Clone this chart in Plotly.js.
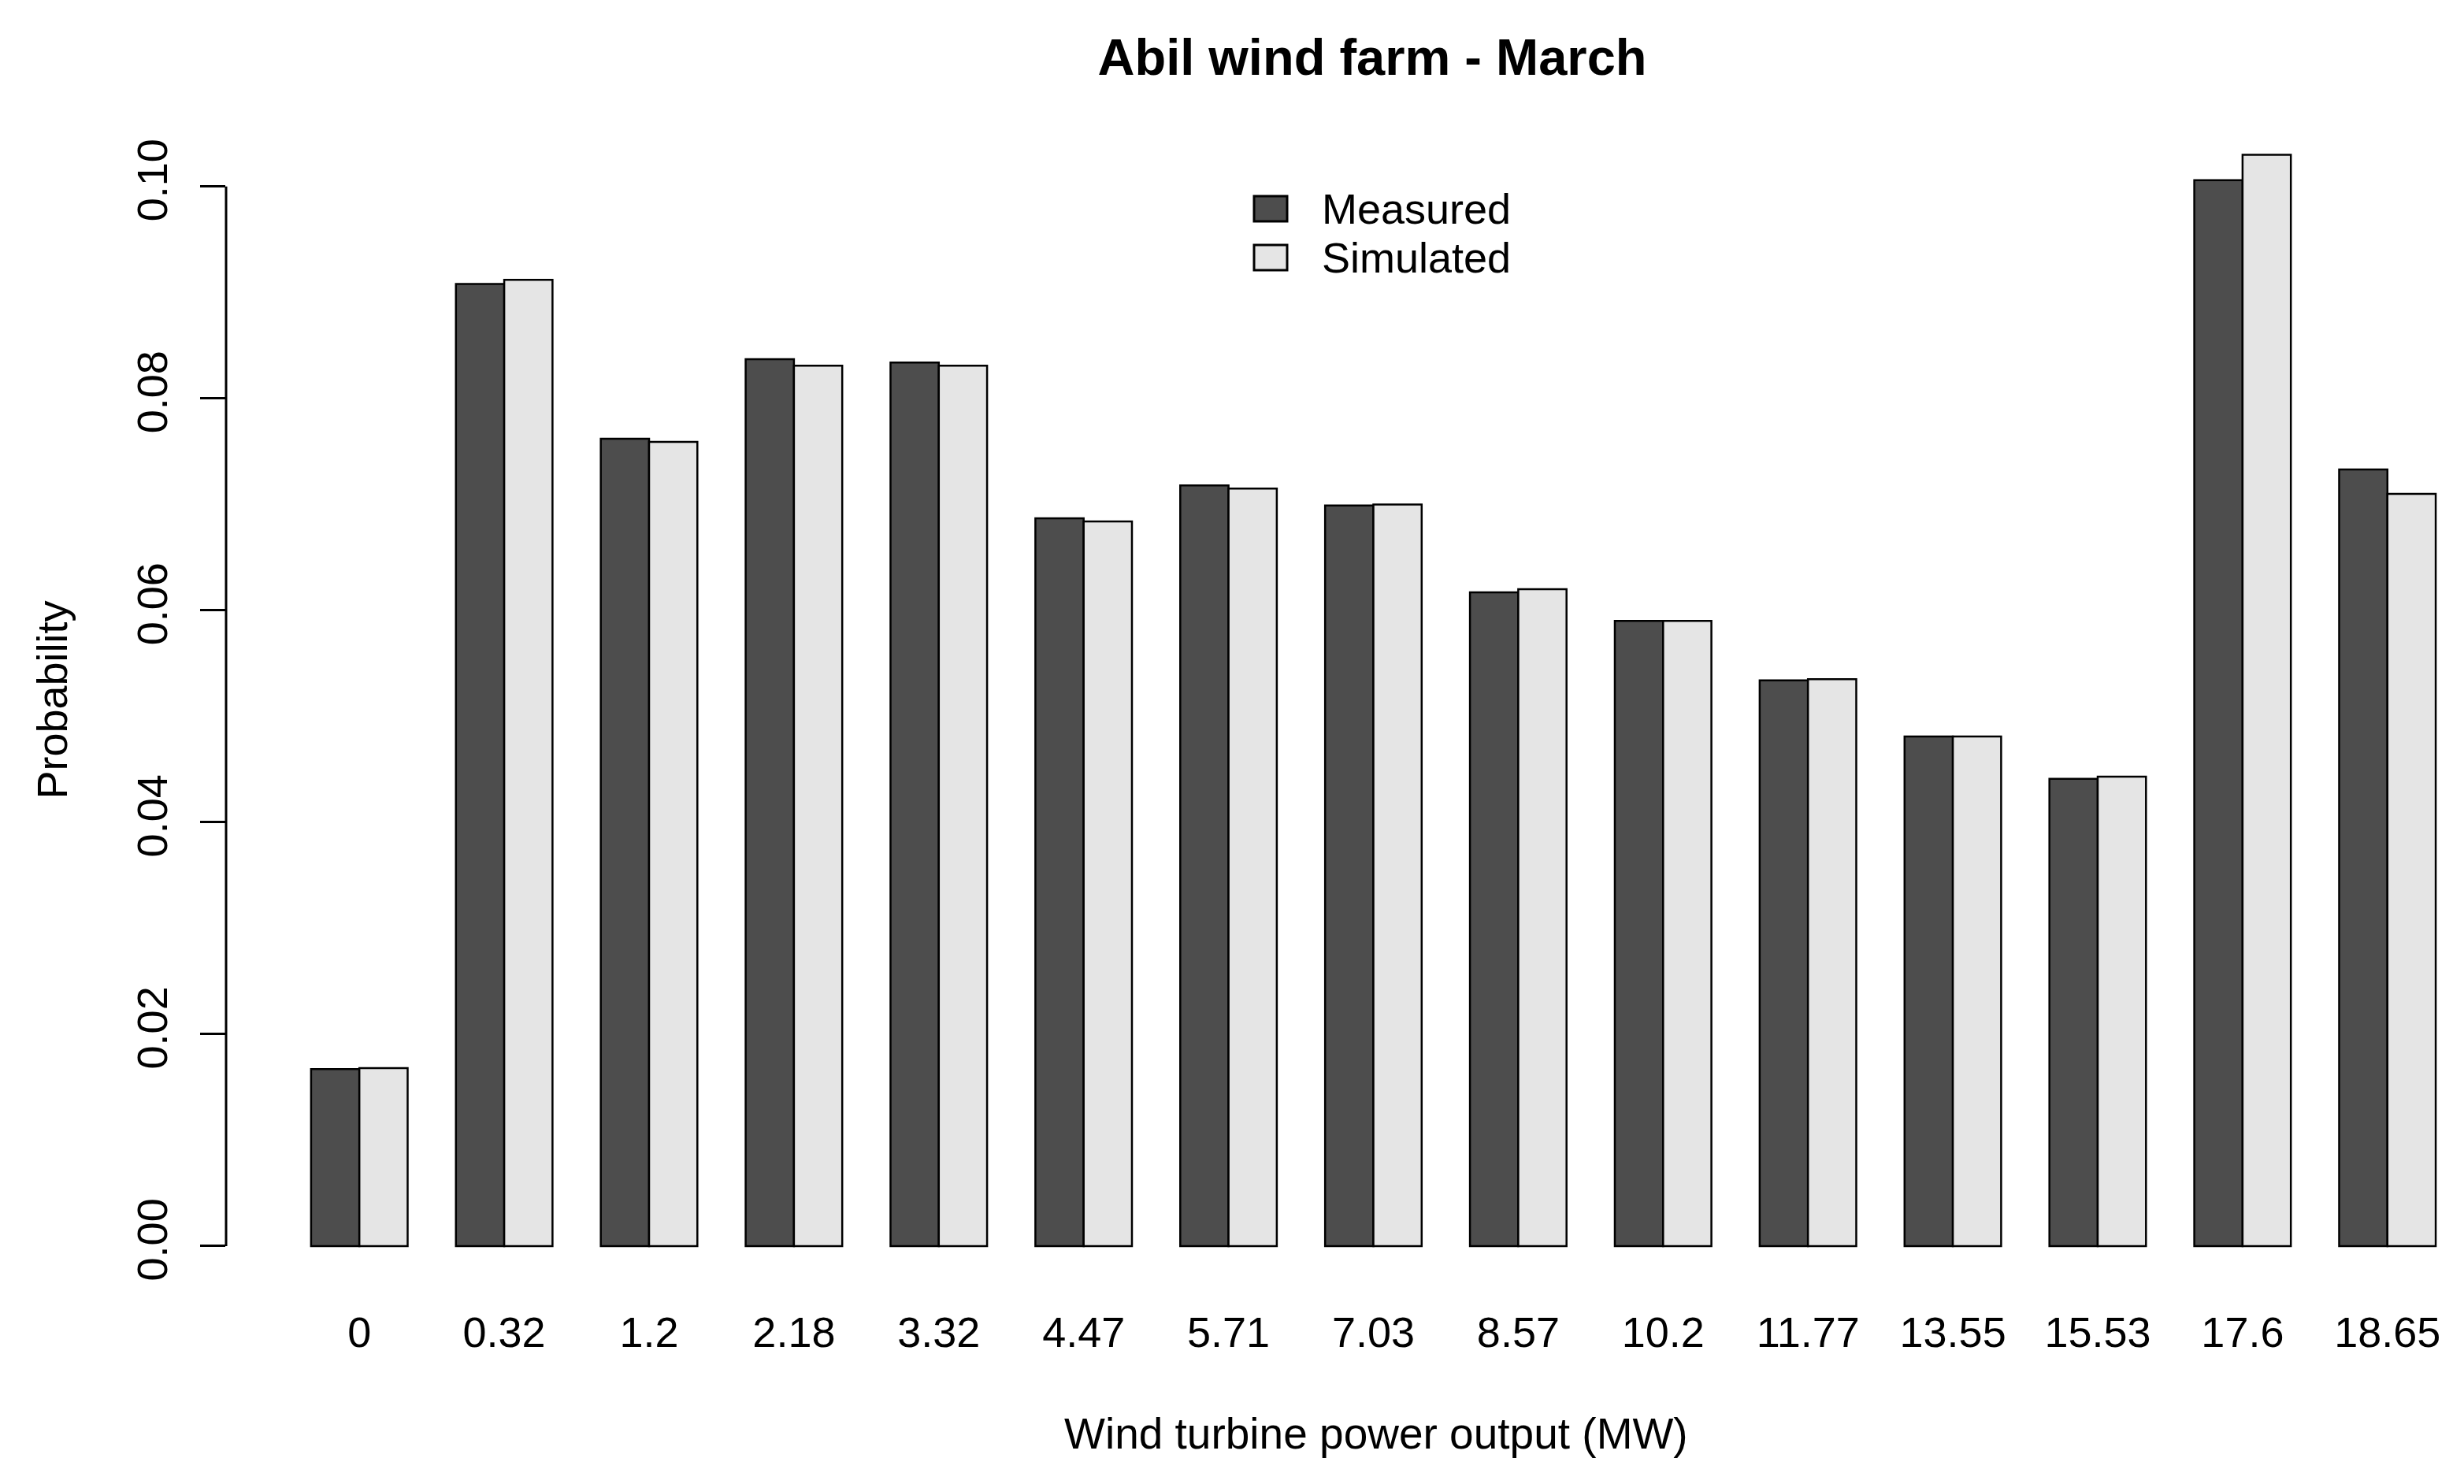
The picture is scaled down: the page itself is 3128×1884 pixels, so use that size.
<!DOCTYPE html>
<html>
<head>
<meta charset="utf-8">
<script src="https://cdn.plot.ly/plotly-3.0.1.min.js"></script>
<style>
  html, body { margin: 0; padding: 0; background: #ffffff; }
  #chart { width: 3128px; height: 1884px; }
</style>
</head>
<body>
<div id="chart"></div>
<script>
// ---- data ----
const categories = ["0", "0.32", "1.2", "2.18", "3.32", "4.47", "5.71", "7.03", "8.57", "10.2", "11.77", "13.55", "15.53", "17.6", "18.65"];
const measured  = [0.0167, 0.0908, 0.0762, 0.0837, 0.0834, 0.0687, 0.0718, 0.0699, 0.0617, 0.0590, 0.0534, 0.0481, 0.0441, 0.1006, 0.0733];
const simulated = [0.0168, 0.0912, 0.0759, 0.0831, 0.0831, 0.0684, 0.0715, 0.0700, 0.0620, 0.0590, 0.0535, 0.0481, 0.0443, 0.1030, 0.0710];
const yTicks = [0, 0.02, 0.04, 0.06, 0.08, 0.10];
const seriesNames = ["Measured", "Simulated"];
const seriesColors = ["#4d4d4d", "#e5e5e5"];

// ---- layout geometry (pixels) ----
const W = 3128, H = 1884;
const M = { l: 287, r: 0, t: 140, b: 247 };
const plotW = W - M.l - M.r, plotH = H - M.t - M.b;
const px2x = px => (px - M.l) / plotW;
const px2y = py => (H - M.b - py) / plotH;
const FONT = "Liberation Sans, Arial, sans-serif";

const traces = [measured, simulated].map((vals, i) => ({
  type: "bar",
  name: seriesNames[i],
  x: categories,
  y: vals,
  marker: { color: seriesColors[i], line: { color: "#000000", width: 2.5 } },
  showlegend: false,
  hoverinfo: "x+y+name"
}));

// legend drawn as shapes + text, like R's legend()
const legendShapes = [];
const legendAnn = [];
const legendRows = [265, 327];
seriesNames.forEach((nm, i) => {
  const cy = legendRows[i];
  legendShapes.push({
    type: "rect", xref: "paper", yref: "paper",
    x0: px2x(1592), x1: px2x(1634), y0: px2y(cy - 16), y1: px2y(cy + 16),
    fillcolor: seriesColors[i], line: { color: "#000000", width: 3 }
  });
  legendAnn.push({
    xref: "paper", yref: "paper", x: px2x(1676), y: px2y(cy),
    xanchor: "left", yanchor: "middle", showarrow: false,
    text: nm, font: { family: FONT, size: 54, color: "#000000" }
  });
});

// x-axis title, centred on R's (wider) plot region
const xTitleAnn = {
  xref: "paper", yref: "paper", x: px2x(1747), y: px2y(1820),
  xanchor: "center", yanchor: "middle", showarrow: false,
  text: "Wind turbine power output (MW)",
  font: { family: FONT, size: 55, color: "#000000" }
};

// y axis line only spanning the tick range (as in base R)
const axisShape = {
  type: "line", xref: "paper", yref: "y",
  x0: 0, x1: 0, y0: yTicks[0], y1: yTicks[yTicks.length - 1],
  line: { color: "#000000", width: 3 }
};

const layout = {
  width: W, height: H,
  margin: M,
  paper_bgcolor: "#ffffff",
  plot_bgcolor: "#ffffff",
  font: { family: FONT, size: 54, color: "#000000" },
  title: {
    text: "<b>Abil wind farm - March</b>",
    font: { family: FONT, size: 65, color: "#000000" },
    xref: "container", yref: "container",
    x: 1742 / W, y: 1 - 72 / H, xanchor: "center", yanchor: "middle"
  },
  barmode: "group",
  bargap: 1 / 3,
  bargroupgap: 0,
  xaxis: {
    type: "category",
    range: [-0.92, -0.92 + plotW / 183.9],
    showline: false, showgrid: false, zeroline: false,
    ticks: "", ticklabelstandoff: 18,
    tickfont: { family: FONT, size: 54, color: "#000000" }
  },
  yaxis: {
    range: [-0.00409, 0.1072],
    tickvals: yTicks,
    tickformat: ".2f",
    tickangle: -90,
    ticks: "outside", ticklen: 32, tickwidth: 3, tickcolor: "#000000",
    ticklabelstandoff: 20,
    showline: false, showgrid: false, zeroline: false,
    tickfont: { family: FONT, size: 54, color: "#000000" },
    title: { text: "Probability", font: { family: FONT, size: 54, color: "#000000" }, standoff: 60 }
  },
  shapes: [axisShape].concat(legendShapes),
  annotations: legendAnn.concat([xTitleAnn])
};

Plotly.newPlot("chart", traces, layout, { staticPlot: true, displayModeBar: false });
</script>
</body>
</html>
